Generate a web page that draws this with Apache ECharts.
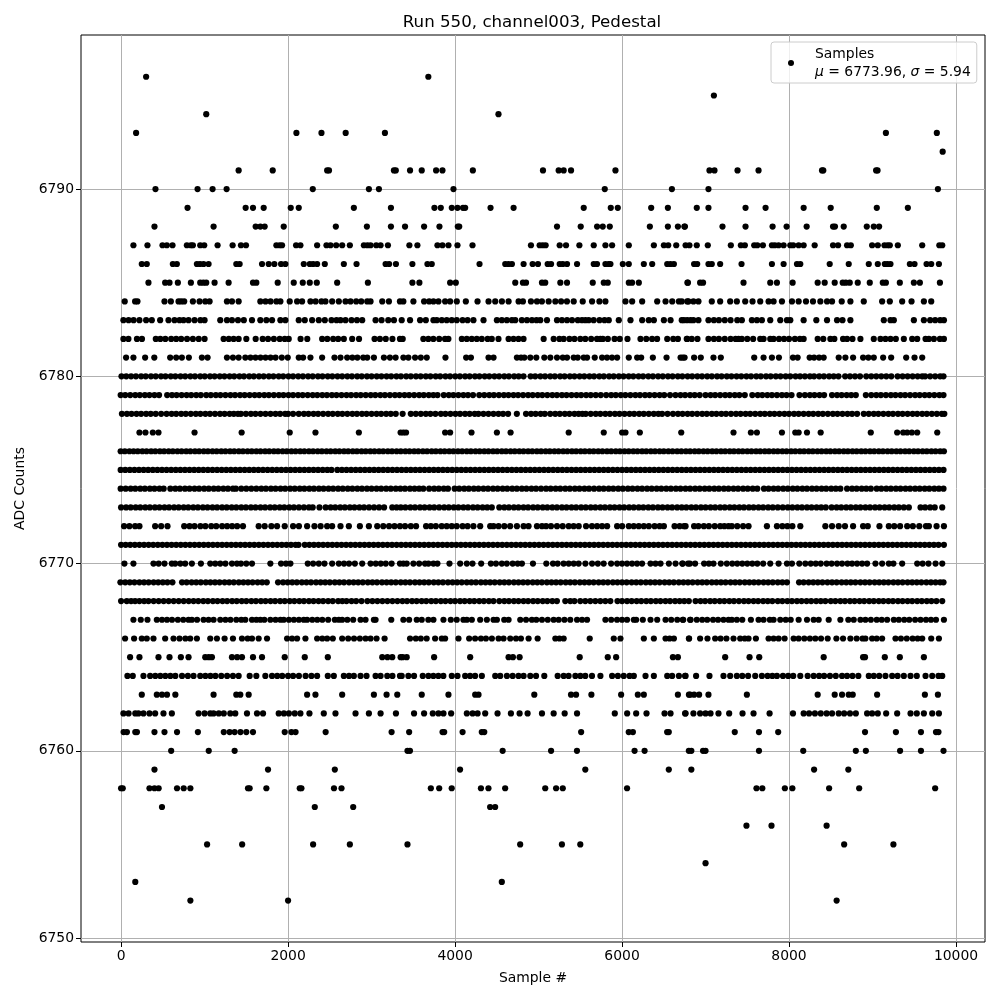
<!DOCTYPE html>
<html><head><meta charset="utf-8">
<script src="https://cdn.jsdelivr.net/npm/echarts@6/dist/echarts.min.js"></script>
<style>html,body{margin:0;padding:0;background:#fff}#c{width:1000px;height:1000px}</style></head>
<body><div id="c"></div><script>
const xTicks=[0,2000,4000,6000,8000,10000];
const yTicks=[6750,6760,6770,6780,6790];
const s6796=[300,3680];
const s6795=[7100];
const s6794=[1020,4520];
const s6793=[180,2100,2400,2690,3160,9160,9770];
const s6792=[9840];
const s6791=[1408,1816,2468,2490,3268,3290,3461,3601,3773,3849,4213,5053,5241,5301,5389,5921,7047,7107,7383,7635,8395,8410,9043,9060];
const s6790=[412,916,1096,1264,2296,2968,3088,3981,5793,6597,7035,9783];
const s6789=[796,1492,1580,1708,2032,2128,2788,3232,3753,3829,3961,4029,4095,4121,4425,4701,5541,5865,5949,6349,6549,6895,7035,7479,7719,8175,8499,9051,9423];
const s6788=[400,1108,1612,1668,1720,1948,2572,2944,3232,3401,3629,3813,4033,4050,5221,5505,5701,5769,5853,6333,6549,6669,6753,6747,7203,7479,7803,7971,8211,8527,8550,8655,8931,9015,9079];
const s6787=[148,316,496,548,616,788,836,860,948,996,1156,1336,1436,1496,1860,1900,1928,2096,2148,2348,2460,2508,2576,2648,2740,2908,2950,2988,3056,3108,3196,3453,3549,3789,3849,3921,4029,4209,4909,5013,5050,5085,5253,5329,5489,5661,5801,5881,6081,6381,6501,6553,6649,6761,6807,6895,7027,7303,7423,7471,7583,7620,7687,7795,7830,7875,7935,8015,8050,8115,8175,8307,8527,8587,8695,8740,8995,9063,9143,9180,9207,9303,9595,9800,9835];
const s6786=[248,308,620,668,908,945,988,1048,1380,1420,1688,1768,1836,1916,1968,2188,2260,2300,2348,2440,2668,2820,3168,3210,3292,3489,3669,3721,4293,4601,4640,4681,4821,4929,4993,5109,5150,5253,5290,5341,5461,5661,5700,5801,5840,5861,6009,6081,6261,6361,6541,6580,6621,6863,6900,7035,7075,7175,7431,7795,7935,8095,8135,8487,8715,8955,9063,9147,9180,9215,9447,9503,9647,9703,9795];
const s6785=[328,528,580,680,836,948,985,1020,1120,1288,1580,1620,1876,2068,2176,2260,2344,2588,2956,3489,3573,3941,4009,4721,4813,4850,5041,5080,5261,5341,5649,5781,5829,6081,6120,6201,6789,6783,6935,6970,7455,7775,7855,8043,8343,8427,8547,8643,8680,8727,8823,8967,9123,9160,9327,9495,9567,9807];
const s6784=[44,168,196,520,596,688,720,756,860,940,1008,1060,1268,1328,1408,1668,1730,1790,1860,1908,2020,2108,2168,2268,2330,2400,2448,2528,2608,2688,2748,2816,2876,2948,2988,3128,3208,3340,3381,3501,3629,3690,3741,3801,3881,3941,4021,4129,4269,4401,4481,4561,4641,4761,4813,4909,4981,5040,5121,5201,5270,5340,5421,5529,5641,5729,5801,6041,6121,6241,6421,6521,6601,6681,6781,6715,6795,6855,6915,7075,7175,7295,7375,7475,7563,7655,7755,7815,7915,8035,8115,8203,8287,8375,8455,8515,8631,8735,8895,9115,9207,9355,9467,9615,9703];
const s6783=[28,90,150,220,300,368,468,568,640,700,748,808,880,950,1000,1188,1268,1328,1400,1470,1568,1668,1740,1808,1908,1968,2128,2200,2288,2368,2440,2520,2580,2628,2688,2760,2825,2888,3048,3120,3200,3268,3361,3461,3581,3650,3741,3781,3841,3900,3960,4020,4090,4150,4220,4341,4501,4560,4620,4681,4721,4800,4861,4921,4975,5021,5101,5221,5280,5341,5401,5470,5520,5561,5601,5660,5730,5790,5841,5961,6101,6241,6320,6381,6501,6581,6741,6821,6715,6780,6855,6915,7035,7100,7160,7230,7300,7380,7435,7555,7615,7675,7775,7895,7975,8015,8175,8327,8455,8575,8640,8735,9135,9215,9255,9495,9615,9690,9750,9810,9855];
const s6782=[28,88,190,250,416,470,530,600,660,720,790,860,930,1000,1228,1290,1348,1408,1500,1612,1696,1760,1830,1900,1960,2008,2150,2230,2408,2470,2540,2600,2668,2768,2850,3036,3100,3170,3250,3340,3373,3620,3680,3740,3810,3880,3920,4081,4140,4200,4260,4320,4390,4440,4520,4641,4700,4760,4820,5061,5181,5250,5301,5370,5430,5500,5560,5630,5700,5740,5770,5830,5910,5973,6065,6221,6290,6360,6420,6541,6613,6669,6781,6775,6835,6903,7035,7100,7160,7230,7300,7360,7395,7435,7500,7570,7655,7695,7775,7815,7880,7940,8000,8070,8130,8175,8343,8410,8495,8543,8647,8695,8760,8855,9015,9095,9155,9215,9279,9375,9475,9535,9635,9675,9735,9807,9855];
const s6781=[60,148,288,398,588,660,728,812,968,1036,1268,1340,1408,1488,1550,1610,1670,1730,1790,1850,1925,1996,2128,2180,2268,2408,2556,2628,2708,2770,2830,2900,2948,3028,3148,3220,3288,3381,3441,3521,3590,3661,3885,4133,4190,4401,4461,4741,4790,4830,4901,4973,5069,5141,5221,5290,5341,5421,5469,5541,5581,5673,5761,5820,5880,5941,6081,6181,6229,6369,6533,6701,6749,6727,6863,6943,7095,7183,7583,7695,7795,7879,8047,8103,8247,8300,8360,8415,8595,8675,8767,8887,8950,9015,9127,9223,9403,9503,9595];
const s6780=[5,62,120,178,240,295,358,415,478,532,595,650,712,768,830,885,948,1002,1065,1120,1182,1238,1300,1355,1418,1472,1535,1590,1652,1708,1770,1825,1888,1942,2005,2060,2122,2178,2240,2295,2358,2412,2475,2530,2592,2648,2710,2765,2828,2882,2945,3000,3062,3118,3180,3235,3298,3352,3415,3470,3532,3588,3650,3705,3768,3822,3885,3940,4002,4058,4120,4175,4238,4292,4355,4410,4472,4528,4590,4645,4708,4762,4820,4905,4960,5022,5078,5140,5195,5258,5312,5375,5430,5492,5548,5610,5665,5728,5782,5845,5900,5962,6018,6080,6135,6198,6252,6315,6370,6432,6488,6550,6605,6668,6722,6785,6840,6902,6958,7020,7075,7138,7192,7255,7310,7372,7428,7490,7545,7608,7662,7725,7780,7842,7898,7960,8015,8078,8132,8190,8250,8300,8362,8418,8480,8535,8592,8672,8730,8790,8850,8925,8985,9045,9105,9165,9225,9300,9360,9420,9480,9540,9595,9630,9690,9750,9810,9850];
const s6779=[-5,50,110,170,225,285,340,400,455,552,610,665,725,785,840,900,955,1020,1075,1135,1190,1250,1310,1365,1425,1480,1540,1600,1655,1715,1770,1830,1890,1945,2005,2060,2120,2175,2235,2295,2350,2410,2465,2525,2580,2640,2700,2755,2815,2870,2930,2990,3045,3105,3160,3220,3280,3335,3395,3450,3510,3570,3625,3685,3740,3790,3865,3925,3980,4040,4100,4155,4215,4290,4350,4410,4465,4525,4585,4640,4700,4755,4815,4875,4930,4990,5045,5105,5165,5220,5280,5335,5395,5455,5510,5570,5625,5685,5745,5810,5870,5925,5985,6040,6100,6160,6215,6275,6330,6390,6450,6505,6575,6640,6700,6755,6815,6870,6930,7000,7060,7115,7175,7235,7290,7350,7405,7470,7560,7625,7680,7740,7795,7855,7915,7970,8030,8125,8190,8250,8305,8365,8420,8515,8575,8630,8690,8745,8800,8920,8985,9045,9100,9160,9220,9275,9335,9390,9450,9510,9565,9625,9680,9740,9800,9850];
const s6778=[10,70,125,185,240,300,355,415,480,545,605,660,720,775,835,895,950,1010,1065,1125,1185,1240,1300,1350,1400,1435,1495,1555,1610,1670,1730,1790,1850,1905,1965,2000,2060,2128,2190,2245,2305,2360,2420,2480,2535,2595,2650,2710,2770,2825,2885,2940,3000,3060,3115,3175,3230,3290,3372,3470,3530,3590,3650,3705,3765,3830,3885,3945,4005,4060,4120,4175,4235,4280,4340,4400,4460,4520,4575,4635,4740,4850,4910,4965,5025,5075,5140,5200,5255,5315,5370,5430,5480,5525,5565,5625,5685,5740,5800,5855,5915,5970,6030,6090,6145,6205,6260,6320,6380,6435,6480,6545,6610,6670,6725,6785,6840,6900,6960,7015,7075,7130,7190,7245,7305,7365,7420,7480,7535,7595,7655,7710,7770,7825,7885,7945,8000,8060,8115,8175,8235,8290,8350,8405,8465,8525,8580,8640,8700,8755,8815,8895,8955,9015,9070,9130,9190,9245,9305,9360,9420,9480,9535,9595,9650,9710,9770,9830,9860];
const s6777=[220,292,380,448,880,1444,2020,2328,2848,3348,3381,3413,3881,3941,4197,4501,4665,5361,5781,6001,6041,6213,6709,7335,7543,7615,7915,8075,8115,8215,8379,8979,9295,9367,9415,9471,9535,9775];
const s6776=[-5,45,100,150,200,255,305,360,410,465,515,570,620,675,725,780,830,885,935,990,1040,1095,1145,1200,1250,1305,1355,1410,1460,1515,1565,1620,1670,1725,1775,1830,1880,1935,1985,2040,2090,2145,2195,2250,2300,2355,2405,2460,2510,2565,2615,2670,2720,2775,2825,2880,2930,2985,3035,3090,3140,3195,3245,3300,3350,3405,3455,3510,3560,3615,3665,3720,3770,3825,3875,3930,3980,4035,4085,4140,4190,4245,4295,4350,4400,4455,4505,4560,4610,4665,4715,4770,4820,4875,4925,4980,5030,5085,5135,5190,5240,5295,5345,5400,5450,5505,5555,5610,5660,5715,5765,5820,5870,5925,5975,6030,6080,6135,6185,6240,6290,6345,6395,6450,6500,6555,6605,6660,6710,6765,6815,6870,6920,6975,7025,7080,7130,7185,7235,7290,7340,7395,7445,7500,7550,7605,7655,7710,7760,7815,7865,7920,7970,8025,8075,8130,8180,8235,8285,8340,8390,8445,8495,8550,8600,8655,8705,8760,8810,8865,8915,8970,9020,9075,9125,9180,9230,9285,9335,9390,9440,9495,9545,9600,9650,9705,9755,9810,9855];
const s6775=[-5,50,105,160,215,270,325,380,435,490,545,600,655,710,765,820,875,930,985,1040,1095,1150,1205,1260,1315,1370,1425,1480,1535,1590,1645,1700,1755,1810,1865,1920,1975,2030,2085,2140,2195,2250,2305,2360,2415,2470,2520,2590,2645,2700,2755,2810,2865,2920,2975,3030,3085,3140,3195,3250,3305,3360,3415,3470,3525,3580,3635,3690,3745,3800,3855,3910,3965,4020,4075,4130,4185,4240,4295,4350,4405,4460,4515,4570,4625,4680,4735,4790,4845,4900,4955,5010,5065,5120,5175,5230,5285,5340,5395,5450,5505,5560,5615,5670,5725,5780,5835,5890,5945,6000,6055,6110,6165,6220,6275,6330,6385,6440,6495,6550,6605,6660,6715,6770,6825,6880,6935,6990,7045,7100,7155,7210,7265,7320,7375,7430,7485,7540,7595,7650,7705,7760,7815,7870,7925,7980,8035,8090,8145,8200,8255,8310,8365,8420,8475,8530,8585,8640,8695,8750,8805,8860,8915,8970,9025,9080,9135,9190,9245,9300,9355,9410,9465,9520,9575,9630,9685,9740,9795,9850];
const s6774=[-5,55,115,170,230,285,345,400,460,510,590,650,705,765,820,880,935,995,1050,1110,1165,1225,1280,1340,1375,1440,1500,1560,1620,1680,1735,1795,1850,1910,1965,2025,2080,2140,2195,2255,2310,2370,2425,2485,2540,2600,2655,2715,2770,2830,2885,2945,3000,3060,3115,3175,3230,3290,3345,3400,3460,3515,3570,3620,3690,3750,3805,3865,3915,3995,4050,4110,4165,4225,4280,4340,4395,4455,4510,4570,4625,4685,4740,4800,4855,4915,4970,5030,5090,5145,5205,5260,5320,5375,5435,5490,5550,5605,5665,5725,5780,5840,5895,5955,6010,6070,6125,6185,6240,6300,6355,6415,6470,6530,6585,6645,6700,6760,6815,6875,6930,6990,7045,7105,7160,7220,7275,7335,7390,7450,7505,7565,7620,7700,7755,7815,7870,7930,7985,8045,8100,8160,8215,8275,8330,8390,8445,8505,8560,8615,8695,8755,8810,8870,8925,8980,9050,9105,9165,9220,9280,9335,9395,9450,9510,9565,9625,9680,9740,9795,9850];
const s6773=[0,60,115,175,230,290,345,405,460,520,575,635,690,750,805,865,920,980,1035,1095,1150,1210,1265,1325,1380,1440,1495,1555,1610,1670,1725,1785,1840,1900,1955,2015,2070,2130,2190,2250,2295,2376,2450,2510,2565,2625,2680,2740,2795,2855,2910,2970,3030,3090,3150,3248,3300,3350,3405,3465,3520,3580,3635,3695,3750,3810,3870,3925,3985,4040,4100,4155,4215,4270,4330,4385,4440,4530,4590,4645,4705,4760,4820,4875,4935,4990,5050,5105,5165,5220,5280,5335,5395,5450,5510,5565,5625,5680,5740,5795,5855,5910,5970,6025,6085,6140,6200,6255,6315,6370,6430,6485,6545,6600,6660,6715,6770,6830,6885,6945,7000,7060,7115,7175,7230,7290,7345,7405,7460,7520,7575,7635,7690,7750,7805,7865,7925,7985,8040,8100,8155,8215,8270,8330,8385,8440,8510,8570,8625,8685,8740,8800,8855,8915,8970,9030,9085,9145,9200,9260,9315,9375,9435,9575,9630,9690,9745,9835];
const s6772=[36,100,168,220,408,480,556,756,820,880,950,1010,1080,1140,1210,1270,1330,1390,1460,1648,1720,1800,1868,1960,2060,2130,2228,2316,2390,2468,2528,2628,2728,2860,2968,3068,3140,3210,3275,3340,3401,3470,3533,3653,3710,3770,3840,3900,3960,4020,4090,4150,4220,4301,4421,4461,4521,4590,4660,4741,4821,4880,4981,5041,5090,5149,5221,5289,5361,5420,5481,5569,5640,5701,5761,5821,5941,6001,6081,6140,6200,6261,6321,6390,6450,6501,6629,6690,6761,6743,6863,6915,6980,7040,7110,7175,7225,7275,7315,7380,7450,7515,7735,7855,7920,7980,8040,8135,8435,8515,8595,8670,8767,8887,8943,9083,9195,9260,9330,9415,9483,9560,9640,9675,9767,9855];
const s6771=[0,55,110,165,220,275,330,385,440,495,550,605,660,715,770,825,880,935,990,1045,1100,1155,1210,1265,1320,1375,1430,1485,1540,1595,1650,1705,1760,1815,1870,1925,1980,2035,2090,2125,2200,2255,2310,2365,2420,2475,2530,2585,2640,2695,2750,2805,2860,2915,2970,3025,3080,3135,3190,3245,3300,3355,3410,3465,3520,3575,3630,3685,3740,3795,3850,3905,3960,4015,4070,4125,4180,4235,4290,4345,4400,4455,4510,4565,4620,4675,4730,4785,4840,4895,4950,5005,5060,5115,5170,5225,5280,5335,5390,5445,5500,5555,5610,5665,5720,5775,5830,5885,5940,5995,6050,6105,6160,6215,6270,6325,6380,6435,6490,6545,6600,6655,6710,6765,6820,6875,6930,6985,7040,7095,7150,7205,7260,7315,7370,7425,7480,7535,7590,7645,7700,7755,7810,7865,7920,7975,8030,8085,8140,8195,8250,8305,8360,8415,8470,8525,8580,8635,8690,8745,8800,8855,8910,8965,9020,9075,9130,9185,9240,9295,9350,9405,9460,9515,9570,9625,9680,9735,9790,9855];
const s6770=[40,148,388,450,520,608,648,710,768,848,956,1068,1128,1188,1250,1328,1388,1436,1500,1568,1788,1916,1975,2028,2236,2300,2368,2436,2528,2608,2670,2730,2800,2888,2988,3050,3110,3170,3240,3340,3381,3421,3501,3570,3640,3681,3741,3789,3933,4061,4141,4209,4313,4429,4490,4560,4620,4690,4750,4801,4933,5093,5173,5229,5300,5361,5421,5480,5561,5641,5710,5780,5869,5941,6000,6060,6120,6180,6240,6341,6401,6461,6561,6641,6721,6813,6727,6790,6875,6983,7040,7095,7183,7255,7320,7380,7440,7500,7560,7620,7690,7775,7875,7975,8035,8123,8195,8260,8320,8380,8450,8510,8575,8635,8700,8755,8815,8875,8935,9035,9115,9195,9250,9355,9535,9600,9670,9755,9835];
const s6769=[-8,50,105,160,220,275,330,390,445,500,555,615,730,785,845,900,955,1015,1070,1125,1180,1240,1295,1350,1410,1465,1520,1575,1635,1690,1745,1880,1940,1995,2050,2105,2165,2220,2275,2335,2390,2445,2500,2560,2615,2670,2730,2785,2840,2895,2955,3010,3065,3125,3180,3235,3290,3350,3405,3460,3520,3575,3630,3685,3745,3800,3855,3915,3970,4025,4080,4140,4195,4250,4310,4365,4420,4475,4535,4590,4645,4705,4760,4815,4870,4930,4985,5040,5100,5155,5210,5265,5325,5380,5435,5495,5550,5605,5660,5720,5775,5830,5890,5945,6000,6055,6115,6170,6225,6285,6340,6395,6450,6510,6565,6620,6680,6735,6790,6845,6905,6960,7015,7075,7130,7185,7240,7300,7355,7410,7470,7525,7580,7635,7695,7750,7805,7865,7920,7975,8120,8175,8235,8290,8345,8400,8460,8515,8570,8630,8685,8740,8795,8855,8910,8965,9025,9080,9135,9190,9250,9305,9360,9420,9475,9530,9585,9645,9700,9755,9810,9850];
const s6768=[0,68,120,168,220,276,328,390,450,510,570,630,690,750,810,868,925,985,1040,1100,1155,1215,1270,1330,1385,1445,1500,1560,1615,1675,1730,1790,1845,1905,1960,2020,2075,2135,2190,2250,2305,2365,2420,2480,2535,2600,2650,2700,2760,2815,2880,2950,3010,3070,3130,3190,3250,3310,3370,3425,3485,3540,3600,3655,3715,3770,3830,3885,3945,4000,4060,4115,4175,4230,4290,4345,4405,4460,4530,4590,4645,4705,4760,4820,4875,4935,4990,5050,5105,5165,5220,5320,5380,5430,5500,5560,5620,5680,5740,5800,5860,5945,6000,6060,6115,6175,6230,6290,6345,6405,6460,6520,6575,6635,6690,6745,6800,6880,6940,6995,7055,7110,7170,7225,7285,7340,7400,7460,7515,7575,7630,7690,7745,7800,7865,7920,7980,8035,8095,8150,8210,8265,8325,8380,8435,8500,8555,8615,8670,8730,8785,8845,8900,8960,9015,9075,9130,9190,9245,9305,9360,9420,9475,9535,9590,9650,9705,9765,9835];
const s6767=[148,236,316,428,490,550,610,680,745,808,848,910,988,1048,1108,1188,1250,1310,1380,1440,1488,1568,1620,1668,1716,1788,1850,1908,1948,2010,2070,2130,2188,2228,2290,2350,2410,2480,2560,2608,2648,2710,2780,2868,2928,3028,3048,3236,3381,3450,3541,3601,3680,3741,3861,3949,4020,4100,4141,4201,4301,4381,4461,4501,4589,4641,4781,4850,4920,4973,5041,5110,5181,5241,5310,5380,5461,5521,5581,5801,5870,5940,6000,6060,6141,6169,6249,6341,6421,6521,6589,6661,6733,6821,6727,6815,6895,6960,7020,7090,7150,7215,7275,7315,7375,7440,7543,7635,7695,7770,7815,7895,7960,8020,8115,8215,8295,8355,8475,8615,8710,8775,8855,8915,8980,9050,9110,9175,9255,9315,9380,9440,9510,9575,9640,9700,9760,9855];
const s6766=[48,156,248,308,388,528,628,700,770,828,908,1068,1148,1240,1340,1448,1516,1568,1648,1748,1988,2048,2108,2208,2348,2410,2468,2536,2648,2720,2790,2860,2928,2988,3060,3156,3461,3530,3590,3660,3761,3841,3881,4041,4169,4240,4310,4370,4441,4521,4581,4661,4730,4789,4881,4989,5201,5250,5301,5613,5901,5981,6261,6381,6521,6570,6621,6801,6803,6935,7023,7115,7180,7250,7335,7415,7470,7515,7603,7755,7815,7875,7947,8055,8115,8183,8250,8315,8383,8463,8567,8647,8735,8810,8880,8915,8995,9050,9115,9275,9340,9410,9480,9540,9595,9703,9795];
const s6765=[108,220,448,580,716,808,1008,1050,1088,1328,1390,1448,1580,1688,1960,2200,2476,3128,3190,3248,3348,3373,3421,3749,4181,4641,4693,4773,5493,5829,5929,6609,6669,7235,7527,7643,8415,8887,8910,9147,9327,9615];
const s6764=[76,140,268,348,410,470,530,590,650,730,800,868,948,1010,1070,1130,1200,1270,1340,1408,1540,1620,1728,1808,1870,1930,2000,2060,2130,2210,2280,2348,2476,2548,2668,2730,2788,2868,2940,3048,3108,3188,3250,3340,3361,3441,3509,3613,3681,3740,3800,3860,3961,4029,4121,4180,4240,4321,4481,4541,4621,4690,4760,4821,4901,4970,5069,5229,5301,5360,5441,5501,5560,5640,5741,5881,5950,6020,6090,6141,6281,6381,6541,6600,6681,6761,6755,6887,7047,7215,7295,7375,7440,7510,7595,7675,7743,7800,7855,7927,7990,8050,8135,8223,8295,8360,8420,8490,8560,8635,8695,8760,8830,8955,9015,9080,9155,9235,9300,9375,9455,9530,9635,9715,9790,9835];
const s6763=[248,428,490,550,650,1108,1380,1428,1528,2228,2328,2648,3028,3180,3308,3601,3921,4241,4281,4949,5389,5449,5633,5989,6189,6261,6669,6801,6815,6863,6923,7035,7495,8343,8547,8635,8715,8763,9055,9627,9783];
const s6762=[28,90,170,208,268,340,408,508,608,928,1000,1068,1108,1170,1230,1308,1368,1508,1628,1700,1888,1950,2010,2080,2148,2256,2428,2568,2808,2968,3108,3292,3509,3629,3733,3801,3861,3953,4141,4210,4270,4361,4509,4669,4773,4869,5041,5181,5313,5461,5913,6061,6169,6293,6509,6581,6761,6755,6855,6935,7000,7060,7155,7283,7443,7575,7767,8047,8175,8240,8310,8380,8450,8515,8595,8660,8730,8800,8935,8995,9063,9163,9295,9455,9530,9615,9715,9795];
const s6761=[30,70,170,190,400,520,670,920,1230,1300,1360,1430,1500,1580,1960,2040,2090,2450,3240,3450,3850,3870,4090,4320,4350,5510,6080,6130,6540,6560,7350,7640,7870,8910,9280,9580,9760,9790];
const s6760=[600,1050,1360,3430,3460,4570,5150,5460,6150,6270,6800,6830,6970,7000,7640,8170,8800,8920,9330,9580,9850];
const s6759=[400,1760,2560,4060,5560,6560,6830,8300,8710];
const s6758=[0,20,340,400,450,670,750,830,1520,1540,1740,2140,2160,2550,2640,3710,3810,3960,4310,4400,4600,5080,5210,5290,6060,7610,7680,7950,8040,8480,8840,9750];
const s6757=[490,2320,2780,4420,4480];
const s6756=[7490,7790,8450];
const s6755=[1030,1450,2300,2740,3430,4780,5280,5500,8660,9250];
const s6754=[7000];
const s6753=[170,4560];
const s6752=[830,2000,8570];
const rows=[[6796,s6796],[6795,s6795],[6794,s6794],[6793,s6793],[6792,s6792],[6791,s6791],[6790,s6790],[6789,s6789],[6788,s6788],[6787,s6787],[6786,s6786],[6785,s6785],[6784,s6784],[6783,s6783],[6782,s6782],[6781,s6781],[6780,s6780],[6779,s6779],[6778,s6778],[6777,s6777],[6776,s6776],[6775,s6775],[6774,s6774],[6773,s6773],[6772,s6772],[6771,s6771],[6770,s6770],[6769,s6769],[6768,s6768],[6767,s6767],[6766,s6766],[6765,s6765],[6764,s6764],[6763,s6763],[6762,s6762],[6761,s6761],[6760,s6760],[6759,s6759],[6758,s6758],[6757,s6757],[6756,s6756],[6755,s6755],[6754,s6754],[6753,s6753],[6752,s6752]];
const points=[];
rows.forEach(([v,xs])=>xs.forEach(x=>points.push([x,v])));
const font='"DejaVu Sans"';
const chart=echarts.init(document.getElementById('c'),null,{renderer:'canvas'});
chart.setOption({
  animation:false,
  backgroundColor:'#fff',
  title:{text:'Run 550, channel003, Pedestal',left:527,top:9,textAlign:'center',textStyle:{fontFamily:font,fontSize:16.67,fontWeight:'normal',color:'#000'}},
  grid:{left:81,right:15,top:35,bottom:58,show:true,borderColor:'#000',borderWidth:1,backgroundColor:'transparent'},
  xAxis:{type:'value',min:-480,max:10347,name:'Sample #',nameLocation:'middle',nameGap:29,
    nameTextStyle:{fontFamily:font,fontSize:13.9,color:'#000'},
    axisLine:{show:false,onZero:false},
    axisTick:{show:true,length:5,customValues:xTicks,lineStyle:{color:'#000'}},
    axisLabel:{customValues:xTicks,fontFamily:font,fontSize:13.9,color:'#000',margin:7,formatter:v=>String(v)},
    splitLine:{show:true,lineStyle:{color:'#b0b0b0',width:1}}},
  yAxis:{type:'value',min:6749.79,max:6798.23,name:'ADC Counts',nameLocation:'middle',nameGap:52,
    nameTextStyle:{fontFamily:font,fontSize:13.9,color:'#000'},
    axisLine:{show:false,onZero:false},
    axisTick:{show:true,length:5,customValues:yTicks,lineStyle:{color:'#000'}},
    axisLabel:{customValues:yTicks,fontFamily:font,fontSize:13.9,color:'#000',margin:7,formatter:v=>String(v)},
    splitLine:{show:true,lineStyle:{color:'#b0b0b0',width:1}}},
  legend:{show:true,left:771,top:42,orient:'vertical',icon:'circle',itemWidth:38,itemHeight:6,
    padding:[5,6,4,17],backgroundColor:'rgba(255,255,255,0.8)',borderColor:'#ccc',borderWidth:1,borderRadius:3,
    formatter:()=>'{t|Samples}\n{t|}{i|μ}{t| = 6773.96, }{i|σ}{t| = 5.94}',
    textStyle:{fontFamily:font,fontSize:13.9,color:'#000',
      rich:{t:{fontFamily:font,fontSize:13.9,color:'#000',lineHeight:18},i:{fontFamily:font,fontStyle:'italic',fontSize:13.9,color:'#000',lineHeight:18}}}},
  series:[{type:'scatter',name:'Samples',data:points,symbol:'circle',symbolSize:6.2,silent:true,large:false,itemStyle:{color:'#000',opacity:1}}]
});
</script></body></html>
